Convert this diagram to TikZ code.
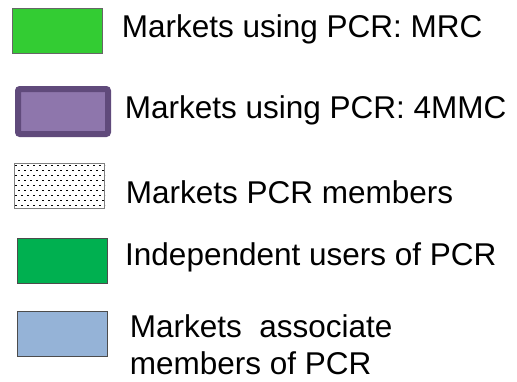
\documentclass[tikz,border=0pt]{standalone}
\usepackage{fontspec}
\setmainfont{Liberation Sans}
\begin{document}
\begin{tikzpicture}[x=1pt,y=-1pt,
  swatch/.style={draw=#1,line width=1pt,minimum width=90pt,minimum height=45pt,inner sep=0pt,anchor=north west},
  label/.style={anchor=base west,inner sep=0pt,font=\fontsize{31.5}{37}\selectfont,align=left}]
\useasboundingbox (0,0) rectangle (517,381);
\definecolor{gA}{HTML}{33CC33}
\definecolor{pFill}{HTML}{8E76AC}
\definecolor{pLine}{HTML}{604A7B}
\definecolor{gB}{HTML}{00B050}
\definecolor{bFill}{HTML}{95B3D7}
% swatches
\node[swatch=black!60,fill=gA] (s1) at (12,8) {};
\node[draw=pLine,line width=6pt,rounded corners=2pt,fill=pFill,minimum width=90pt,minimum height=45pt,inner sep=0pt,anchor=north west] (s2) at (15,86) {};
\node[swatch=black!45,fill=white] (s3) at (14,163) {};
\begin{scope}
  \clip (s3.north west) rectangle (s3.south east);
  \foreach \r in {0,...,9}{
    \pgfmathsetmacro{\yy}{164.5+5*\r}
    \pgfmathsetmacro{\off}{mod(\r,2)*3}
    \foreach \c in {0,...,15}{
      \fill[black] (15+\off+6*\c,\yy) rectangle ++(1.8,1.8);
    }
  }
\end{scope}
\node[swatch=black!50] (s3b) at (14,163) {};
\node[swatch=black!70,fill=gB] (s4) at (17,238) {};
\node[swatch=black!70,fill=bFill] (s5) at (17,311) {};
% labels
\node[label] (t1) at (121.7,37) {Markets using PCR: MRC};
\node[label] (t2) at (124.7,118) {Markets using PCR: 4MMC};
\node[label] (t3) at (125.7,203) {Markets PCR members};
\node[label] (t4) at (125,265) {Independent users of PCR};
\node[label] (t5) at (129.7,374) {Markets\ \ associate\\members of PCR};
\end{tikzpicture}
\end{document}
